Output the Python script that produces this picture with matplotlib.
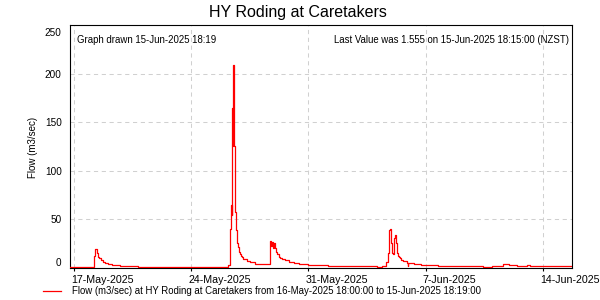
import matplotlib
matplotlib.use('Agg')
import matplotlib.pyplot as plt
import matplotlib.transforms as mtrans
from matplotlib.lines import Line2D
import pandas as pd

plt.rcParams['font.family'] = ['Liberation Sans', 'DejaVu Sans']

# ---- data ----
start = pd.Timestamp('2025-05-16 18:00')
end = pd.Timestamp('2025-06-15 18:19')

hours = [0.0, 34.4, 36.2, 39.1, 40.6, 42.0, 44.0, 46.9, 50.2, 54.9, 59.8, 71.7, 97.9,
         227.0, 229.8, 231.3, 231.8, 232.3, 233.3, 234.1, 234.8, 236.1, 237.6, 239.0,
         240.4, 241.9, 243.3, 244.7, 246.2, 248.5, 253.3, 258.1, 265.2, 274.8,
         286.7, 288.2, 289.6, 291.0, 292.5, 293.9, 295.3, 296.8, 299.2, 301.5, 303.9,
         307.8, 313.5, 320.7, 327.9, 341.6, 370.3, 439.7, 446.9,
         453.0, 456.4, 457.8, 458.8, 459.8, 461.2, 462.1, 463.5, 464.5, 466.0, 467.0,
         468.4, 469.3, 470.7, 472.1, 473.1, 474.5, 477.8, 482.7, 484.1, 484.9, 487.5,
         493.2, 503.2, 528.0, 592.5, 605.4, 621.2, 629.4, 640.4, 654.8, 659.5, 720.3]
flow = [0.8, 12.0, 19.0, 14.8, 11.3, 9.7, 7.9, 6.2, 4.8, 3.5, 2.5, 1.8, 0.8,
        2.8, 39.5, 64.6, 54.3, 164.0, 125.0, 209.0, 125.0, 57.0, 38.8, 25.1,
        21.0, 16.5, 14.1, 12.0, 10.7, 8.6, 6.9, 5.5, 4.1, 3.5,
        27.5, 22.7, 26.8, 20.6, 25.0, 20.6, 16.5, 13.8, 11.0, 9.7, 8.6,
        7.6, 5.9, 5.0, 4.1, 3.1, 1.8, 0.7, 1.8,
        6.2, 14.8, 38.8, 39.9, 25.0, 18.2, 14.8, 14.5, 30.3, 33.7, 25.0,
        18.2, 14.8, 12.0, 10.7, 9.5, 7.9, 6.9, 5.2, 1.4, 5.2, 4.5,
        3.5, 2.8, 1.4, 0.5, 1.4, 3.5, 2.5, 1.4, 2.5, 1.4, 1.555]

tick_dates = ['2025-05-17', '2025-05-24', '2025-05-31', '2025-06-07', '2025-06-14']
tick_labels = ['17-May-2025', '24-May-2025', '31-May-2025', '7-Jun-2025', '14-Jun-2025']
y_ticks = [0, 50, 100, 150, 200, 250]

title = 'HY Roding at Caretakers'
ylabel = 'Flow (m3/sec)'
drawn_text = 'Graph drawn 15-Jun-2025 18:19'
last_text = 'Last Value was 1.555 on 15-Jun-2025 18:15:00 (NZST)'
legend_text = 'Flow (m3/sec) at HY Roding at Caretakers from 16-May-2025 18:00:00 to 15-Jun-2025 18:19:00'

# ---- figure ----
W, H = 600, 300
fig = plt.figure(figsize=(6, 3), dpi=100)
L, R, T, B = 70, 572.3, 25, 267.7
ax = fig.add_axes([L / W, 1 - B / H, (R - L) / W, (B - T) / H])

times = start + pd.to_timedelta(hours, unit='h')
ax.plot(times, flow, drawstyle='steps-post', color='#ff0000', lw=0.9, zorder=3)

ax.set_xlim(start, end)
ax.set_ylim(0, 250)
ax.set_xticks(pd.to_datetime(tick_dates))
ax.set_xticklabels(tick_labels)
ax.set_yticks(y_ticks)
ax.set_yticklabels([str(v) for v in y_ticks])

ax.set_axisbelow(True)
ax.grid(True, color='#d0d0d0', linestyle=(0, (4, 3.5)), linewidth=0.75)
for s in ax.spines.values():
    s.set_color('black')
    s.set_linewidth(0.8)

ax.tick_params(axis='x', direction='out', length=2.5, width=0.8, pad=2.5,
               labelsize=7.7, colors='black')
ax.tick_params(axis='y', length=0, pad=6, labelsize=7.2, colors='black')

fig.text(298 / W, 1 - 12 / H, title, ha='center', va='center', fontsize=11.5)
fig.text(33 / W, 1 - 147 / H, ylabel, rotation=90, ha='center', va='center', fontsize=7)
fig.text(77 / W, 1 - 40 / H, drawn_text, ha='left', va='center', fontsize=6.9)
fig.text(568.5 / W, 1 - 40 / H, last_text, ha='right', va='center', fontsize=6.9)

fig.add_artist(Line2D([43 / W, 61 / W], [1 - 291 / H, 1 - 291 / H],
                      transform=fig.transFigure, color='#ff0000', lw=0.9))
fig.text(72 / W, 1 - 291 / H, legend_text, ha='left', va='center', fontsize=6.9)

# label offsets like the reference
fig.canvas.draw()
px = 1 / 100
for lab in ax.get_xticklabels():
    lab.set_ha('left')
    lab.set_transform(lab.get_transform() + mtrans.ScaledTranslation(-3 * px, 0, fig.dpi_scale_trans))
ylabs = ax.get_yticklabels()
ylabs[0].set_transform(ylabs[0].get_transform() + mtrans.ScaledTranslation(0, 5.5 * px, fig.dpi_scale_trans))
ylabs[-1].set_transform(ylabs[-1].get_transform() + mtrans.ScaledTranslation(0, -7 * px, fig.dpi_scale_trans))

fig.savefig('out.png', dpi=100)
